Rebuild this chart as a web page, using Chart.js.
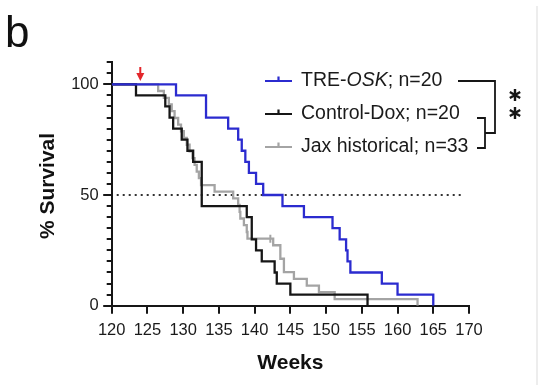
<!DOCTYPE html>
<html>
<head>
<meta charset="utf-8">
<script src="https://cdn.jsdelivr.net/npm/chart.js@4.4.1/dist/chart.umd.min.js"></script>
<style>
  html, body { margin: 0; padding: 0; background: #fff; }
  #wrap { width: 546px; height: 385px; }
</style>
</head>
<body>
<div id="wrap"><canvas id="survivalChart" width="546" height="385"></canvas></div>
<script>
// Kaplan-Meier curves (weeks, % survival)
const treWeeks = [120, 129.0, 133.2, 136.3, 137.7, 138.2, 138.7, 139.2, 140.2, 141.2, 143.9, 146.9, 150.9, 151.9, 152.8, 153.0, 153.4, 157.8, 160.0, 165.0];
const treSurv  = [100, 95, 85, 80, 75, 70, 65, 60, 55, 50, 45, 40, 35, 30, 25, 20, 15, 10, 5, 0];

const ctrlWeeks = [120, 123.4, 127.5, 128.1, 128.6, 129.8, 130.6, 131.4, 132.6, 138.9, 139.6, 140.2, 141.0, 142.8, 143.1, 145.0, 155.8];
const ctrlSurv  = [100, 95, 90, 85, 80, 75, 70, 65, 45, 40, 30, 25, 20, 15, 10, 5, 0];

const jaxWeeks = [120, 126.5, 127.3, 128.0, 128.4, 128.8, 129.3, 129.7, 130.1, 130.5, 130.9, 131.3, 131.6, 131.9, 132.2, 132.5, 134.4, 137.0, 137.7, 137.9, 138.0, 138.5, 138.9, 139.0, 142.6, 143.6, 144.1, 145.5, 147.3, 149.0, 151.2, 162.8];
const jaxSurv  = [100, 97.0, 93.9, 90.9, 87.9, 84.8, 81.8, 78.8, 75.8, 72.7, 69.7, 66.7, 63.6, 60.6, 57.6, 54.5, 51.5, 48.5, 45.5, 42.4, 39.4, 36.4, 33.3, 30.3, 27.3, 21.2, 15.2, 12.1, 9.1, 6.1, 3.0, 0];

// censored observation (tick mark)
const jaxCensorWeeks = [142.2];
const jaxCensorSurv  = [30.3];

const medianWeeks = [120.7, 169];
const medianSurv  = [50, 50];

const treatmentStartWeek = 124;

const legendLabels = [
  ['TRE-', 'OSK', '; n=20'],
  ['Control-Dox; n=20', '', ''],
  ['Jax historical; n=33', '', '']
];

const BLUE = '#2b2bcf';
const BLACK = '#161616';
const GREY = '#a4a4a4';
const FONT = '"Liberation Sans", Arial, sans-serif';

const toPoints = (xs, ys) => xs.map((x, i) => ({x: x, y: ys[i]}));

const overlay = {
  id: 'overlay',
  afterDraw(chart) {
    const ctx = chart.ctx;
    const xs = chart.scales.x, ys = chart.scales.y;
    const left = chart.chartArea.left;
    ctx.save();

    // y ticks: long at 0/50/100, short every 5
    ctx.strokeStyle = BLACK;
    ctx.lineWidth = 2;
    for (let v = 0; v <= 110; v += 5) {
      const len = (v % 50 === 0) ? 8.5 : 5;
      const py = Math.round(ys.getPixelForValue(v)) + 0.0;
      ctx.beginPath();
      ctx.moveTo(left - len, py);
      ctx.lineTo(left, py);
      ctx.stroke();
    }

    // panel letter
    ctx.fillStyle = '#111';
    ctx.font = '44px ' + FONT;
    ctx.textBaseline = 'alphabetic';
    ctx.textAlign = 'left';
    ctx.fillText('b', 5, 47);

    // axis titles
    ctx.font = 'bold 21px ' + FONT;
    ctx.textAlign = 'center';
    ctx.fillText('Weeks', (xs.left + xs.right) / 2, 369);
    ctx.save();
    ctx.translate(54, 186);
    ctx.rotate(-Math.PI / 2);
    ctx.fillText('% Survival', 0, 0);
    ctx.restore();

    // red arrow marking treatment start
    const ax = xs.getPixelForValue(treatmentStartWeek);
    ctx.strokeStyle = '#e3262b';
    ctx.fillStyle = '#e3262b';
    ctx.lineWidth = 2;
    ctx.beginPath();
    ctx.moveTo(ax, 67);
    ctx.lineTo(ax, 75);
    ctx.stroke();
    ctx.beginPath();
    ctx.moveTo(ax - 4, 73);
    ctx.lineTo(ax + 4, 73);
    ctx.lineTo(ax, 81);
    ctx.closePath();
    ctx.fill();

    // legend
    const colors = [BLUE, BLACK, GREY];
    const rowsY = [81, 114, 147];
    ctx.textAlign = 'left';
    ctx.textBaseline = 'middle';
    legendLabels.forEach((parts, i) => {
      const y = rowsY[i];
      ctx.strokeStyle = colors[i];
      ctx.lineWidth = 2.2;
      ctx.beginPath();
      ctx.moveTo(265, y);
      ctx.lineTo(292, y);
      ctx.moveTo(278.5, y);
      ctx.lineTo(278.5, y - 4.5);
      ctx.stroke();
      let x = 301;
      ctx.fillStyle = '#1a1a1a';
      ctx.font = '19.5px ' + FONT;
      ctx.fillText(parts[0], x, y);
      x += ctx.measureText(parts[0]).width;
      if (parts[1]) {
        ctx.font = 'italic 19.5px ' + FONT;
        ctx.fillText(parts[1], x, y);
        x += ctx.measureText(parts[1]).width;
        ctx.font = '19.5px ' + FONT;
        ctx.fillText(parts[2], x, y);
      }
    });

    // significance brackets
    ctx.strokeStyle = BLACK;
    ctx.lineWidth = 1.8;
    ctx.beginPath();
    ctx.moveTo(458, 81); ctx.lineTo(495, 81); ctx.lineTo(495, 133); ctx.lineTo(485, 133);
    ctx.moveTo(477, 118); ctx.lineTo(485, 118); ctx.lineTo(485, 148); ctx.lineTo(477, 148);
    ctx.stroke();

    // asterisks
    ctx.lineWidth = 2.4;
    [95, 113].forEach(cy => {
      const cx = 515, r = 6;
      ctx.beginPath();
      for (let k = 0; k < 3; k++) {
        const a = Math.PI / 2 + k * Math.PI / 3;
        ctx.moveTo(cx + r * Math.cos(a), cy + r * Math.sin(a));
        ctx.lineTo(cx - r * Math.cos(a), cy - r * Math.sin(a));
      }
      ctx.stroke();
    });

    // faint panel border at right
    ctx.strokeStyle = '#ededed';
    ctx.lineWidth = 2;
    ctx.beginPath();
    ctx.moveTo(537, 6);
    ctx.lineTo(537, 385);
    ctx.stroke();

    ctx.restore();
  }
};

const ctx = document.getElementById('survivalChart');
new Chart(ctx, {
  type: 'line',
  data: {
    datasets: [
      {label: 'TRE-OSK; n=20', data: toPoints(treWeeks, treSurv), borderColor: BLUE, borderWidth: 2.3, stepped: true, pointRadius: 0, fill: false},
      {label: 'Control-Dox; n=20', data: toPoints(ctrlWeeks, ctrlSurv), borderColor: BLACK, borderWidth: 2.3, stepped: true, pointRadius: 0, fill: false},
      {label: 'Jax historical; n=33', data: toPoints(jaxWeeks, jaxSurv), borderColor: GREY, borderWidth: 2.3, stepped: true, pointRadius: 0, fill: false},
      {label: 'censored', data: toPoints(jaxCensorWeeks, jaxCensorSurv), showLine: false, pointStyle: 'line', rotation: 90, pointRadius: 4, borderColor: GREY, borderWidth: 2},
      {label: 'median', data: toPoints(medianWeeks, medianSurv), borderColor: '#333', borderWidth: 2.2, borderDash: [2, 4], pointRadius: 0, fill: false}
    ]
  },
  options: {
    responsive: false,
    animation: false,
    devicePixelRatio: 1,
    layout: {padding: {top: 62.2, right: 77, left: 0, bottom: 0}},
    plugins: {legend: {display: false}, tooltip: {enabled: false}},
    scales: {
      x: {
        type: 'linear', min: 120, max: 170,
        ticks: {stepSize: 5, autoSkip: false, maxRotation: 0, padding: 7, color: '#1a1a1a', font: {family: FONT, size: 16.5}},
        grid: {drawOnChartArea: false, drawTicks: true, tickLength: 8, color: BLACK, lineWidth: 2},
        border: {color: BLACK, width: 2},
        afterFit: s => { s.height = 385 - 305.7; }
      },
      y: {
        min: 0, max: 110,
        ticks: {stepSize: 5, autoSkip: false, padding: 13, color: '#1a1a1a', font: {family: FONT, size: 16.5},
          callback: v => (v % 50 === 0 && v <= 100) ? String(v) : ''},
        grid: {drawOnChartArea: false, drawTicks: false},
        border: {color: BLACK, width: 2},
        afterFit: s => { s.width = 111.7; }
      }
    }
  },
  plugins: [overlay]
});
</script>
</body>
</html>
